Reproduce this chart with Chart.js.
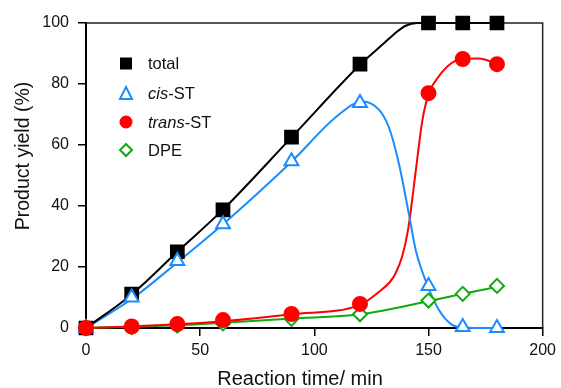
<!DOCTYPE html>
<html><head><meta charset="utf-8">
<script src="https://cdn.jsdelivr.net/npm/chart.js@4/dist/chart.umd.min.js"></script>
<style>html,body{margin:0;padding:0;background:#fff}#wrap{width:561px;height:388px}</style>
</head><body><div id="wrap"><canvas id="c" width="561" height="388"></canvas></div>
<script>
// measured data
const times = [0, 20, 40, 60, 90, 120, 150, 165, 180];
const totalY = [0, 11.1, 25, 38.7, 62.6, 86.5, 100, 100, 100];
const cisY = [0, 10, 22, 34, 54.7, 73.8, 13.8, 0.3, 0];
const transY = [0, 0.5, 1.3, 2.6, 4.6, 7.9, 77, 88.2, 86.5];
const dpeY = [0, 0.3, 0.8, 1.5, 3, 4.5, 9, 11.2, 13.8];

// fitted curves
const totalFitX = [0, 20, 40, 60, 90, 120, 130, 135, 140, 145, 150, 165, 180];
const totalFitY = [0, 11, 25, 38.8, 62.5, 86.3, 93, 96.4, 99.1, 100, 100, 100, 100];
const cisFitX = [0, 20, 40, 60, 90, 110, 121, 128.4, 132.8, 137, 141.5, 144.4, 149.5, 154.6, 160, 165, 180];
const cisFitY = [0, 9.5, 21.5, 34, 54.5, 69.5, 74.3, 71.5, 65.5, 54, 37, 25.6, 14.1, 5.9, 1.2, 0.2, 0];
const transFitX = [0, 20, 40, 60, 90, 120, 128.4, 133, 135.5, 138.5, 141, 142.6, 145, 147.3, 150.2, 154.6, 160, 165, 172, 180];
const transFitY = [0, 0.5, 1.2, 2.2, 4.5, 7.6, 11.9, 15, 17.8, 23.5, 32, 40.5, 55, 68, 77, 82.6, 86.8, 88.3, 88.4, 86.6];
const dpeFitX = [0, 20, 40, 60, 90, 120, 150, 165, 180];
const dpeFitY = [0, 0.4, 0.9, 1.7, 3.1, 4.5, 8.8, 11.2, 13.5];

const xTicks = [0, 50, 100, 150, 200];
const yTicks = [0, 20, 40, 60, 80, 100];
const xTitle = 'Reaction time/ min';
const yTitle = 'Product yield (%)';

const BLUE = '#1a8cff', RED = '#ff0000', GREEN = '#10aa10', BLACK = '#000000';
const FONT = '"Liberation Sans", Arial, sans-serif';

const pts = (xs, ys) => xs.map((x, i) => ({x, y: ys[i]}));

const lineDs = (xs, ys, color) => ({
  data: pts(xs, ys), borderColor: color, borderWidth: 2, pointRadius: 0,
  showLine: true, cubicInterpolationMode: 'monotone', fill: false, order: 10, clip: false
});
const markDs = (ys, color, style, r, fill, order) => ({
  data: pts(times, ys), showLine: false, pointStyle: style, pointRadius: r,
  pointBackgroundColor: fill, pointBorderColor: color, pointBorderWidth: 2, order: order, clip: false
});

const legendItems = [
  {style: 'rect', color: BLACK, fill: BLACK, parts: [['total', false]]},
  {style: 'triangle', color: BLUE, fill: '#fff', parts: [['cis', true], ['-ST', false]]},
  {style: 'circle', color: RED, fill: RED, parts: [['trans', true], ['-ST', false]]},
  {style: 'diamond', color: GREEN, fill: '#fff', parts: [['DPE', false]]}
];

function drawMarker(ctx, style, x, y, color, fill) {
  ctx.save();
  ctx.fillStyle = fill; ctx.strokeStyle = color; ctx.lineWidth = 2;
  ctx.beginPath();
  if (style === 'rect') { ctx.rect(x - 6, y - 6, 12, 12); ctx.fill(); }
  else if (style === 'circle') { ctx.arc(x, y, 6.5, 0, Math.PI * 2); ctx.fill(); }
  else if (style === 'triangle') { ctx.moveTo(x, y - 6.5); ctx.lineTo(x + 6, y + 5.5); ctx.lineTo(x - 6, y + 5.5); ctx.closePath(); ctx.fill(); ctx.stroke(); }
  else if (style === 'diamond') { ctx.moveTo(x, y - 6); ctx.lineTo(x + 6, y); ctx.lineTo(x, y + 6); ctx.lineTo(x - 6, y); ctx.closePath(); ctx.fill(); ctx.stroke(); }
  ctx.restore();
}

const extras = {
  id: 'extras',
  beforeDatasetsDraw(chart) {
    const {ctx, chartArea: a} = chart;
    ctx.save();
    ctx.strokeStyle = '#222'; ctx.lineWidth = 1.5;
    ctx.beginPath();
    ctx.moveTo(a.left, a.top); ctx.lineTo(a.right, a.top); ctx.lineTo(a.right, a.bottom);
    ctx.stroke();
    ctx.restore();
  },
  afterDraw(chart) {
    const ctx = chart.ctx;
    // axis titles
    ctx.save();
    ctx.fillStyle = '#111';
    ctx.font = '20px ' + FONT;
    ctx.textAlign = 'center'; ctx.textBaseline = 'alphabetic';
    ctx.fillText(xTitle, 300, 385);
    ctx.translate(29, 156);
    ctx.rotate(-Math.PI / 2);
    ctx.font = '19.5px ' + FONT;
    ctx.fillText(yTitle, 0, 0);
    ctx.restore();
    // legend
    const ys = [63.5, 93.5, 122, 150];
    legendItems.forEach((it, i) => {
      drawMarker(ctx, it.style, 126, ys[i], it.color, it.fill);
      let x = 148;
      ctx.save();
      ctx.fillStyle = '#111'; ctx.textBaseline = 'middle';
      it.parts.forEach(([t, ital]) => {
        ctx.font = (ital ? 'italic ' : '') + '16.5px ' + FONT;
        ctx.fillText(t, x, ys[i] + 1);
        x += ctx.measureText(t).width;
      });
      ctx.restore();
    });
  }
};

new Chart(document.getElementById('c'), {
  type: 'scatter',
  data: {
    datasets: [
      lineDs(totalFitX, totalFitY, BLACK),
      lineDs(cisFitX, cisFitY, BLUE),
      lineDs(transFitX, transFitY, RED),
      lineDs(dpeFitX, dpeFitY, GREEN),
      markDs(totalY, BLACK, 'rect', 9, BLACK, 4),
      markDs(cisY, BLUE, 'triangle', 8, '#ffffff', 3),
      markDs(dpeY, GREEN, 'rectRot', 7, '#ffffff', 2),
      markDs(transY, RED, 'circle', 7, RED, 1)
    ]
  },
  options: {
    responsive: false, animation: false, devicePixelRatio: 1,
    layout: {padding: {top: 23, right: 17, left: 0, bottom: 0}},
    plugins: {legend: {display: false}, tooltip: {enabled: false}},
    scales: {
      x: {
        type: 'linear', min: 0, max: 200,
        afterBuildTicks: s => { s.ticks = xTicks.map(v => ({value: v})); },
        afterFit: s => { s.height = 60; },
        grid: {display: true, drawOnChartArea: false, drawTicks: true, tickLength: 8, color: '#000', lineWidth: 1.5},
        border: {display: true, color: '#000', width: 2},
        ticks: {color: '#111', padding: 5, font: {family: FONT, size: 16}},
        title: {display: false}
      },
      y: {
        type: 'linear', min: 0, max: 100,
        afterBuildTicks: s => { s.ticks = yTicks.map(v => ({value: v})); },
        afterFit: s => { s.width = 86; },
        grid: {display: true, drawOnChartArea: false, drawTicks: true, tickLength: 8, color: '#000', lineWidth: 1.5},
        border: {display: true, color: '#000', width: 2},
        ticks: {color: '#111', padding: 9, font: {family: FONT, size: 16}},
        title: {display: false}
      }
    }
  },
  plugins: [extras]
});
</script></body></html>
